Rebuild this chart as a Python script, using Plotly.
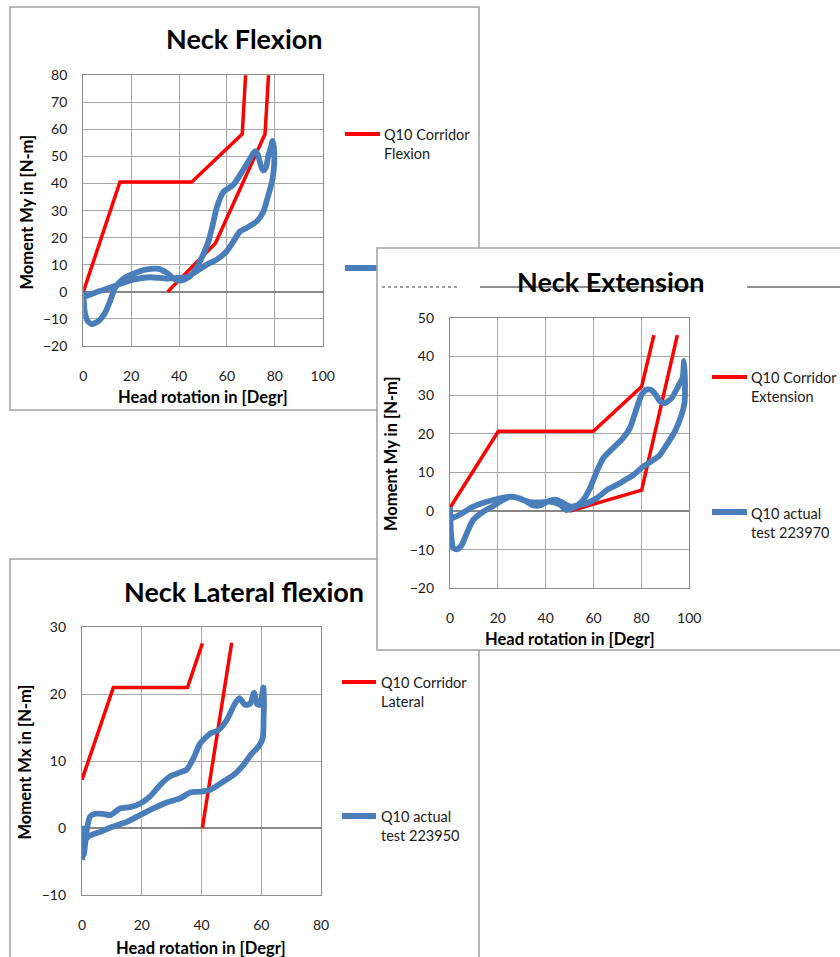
import plotly.graph_objects as go

# ---------------- DATA ----------------
# Neck Flexion
flex_corr_upper_x = [0, 15.3, 45.3, 66.4, 68.1]
flex_corr_upper_y = [0, 40.6, 40.6, 58.3, 85]
flex_corr_lower_x = [35.2, 55.2, 75.9, 77.7]
flex_corr_lower_y = [0, 18.0, 58.3, 85]
flex_test_x = [0, 0.2, 0.6, 1.7, 3.5, 6.3, 9.1, 11.2, 13.3, 16.7, 20.9, 26.5, 31.4, 34.8,
               38.3, 41.1, 44.6, 47.3, 50.1, 52.3, 54.0, 55.7, 58.5, 62.7, 66.9, 69.5,
               71.0, 71.8, 73.0, 74.2, 75.2, 76.3, 77.3, 78.4, 79.1, 79.6, 79.8, 79.6,
               79.1, 78.2, 77.3, 75.2, 72.4, 68.2, 65.4, 62.7, 59.9, 55.7, 51.5, 47.3,
               43.1, 40.3, 34.8, 27.8, 20.8, 15.2, 11.0, 5.5, 0.6, 0]
flex_test_y = [0.3, -3.5, -7.5, -10.6, -11.9, -10.8, -7.7, -3.4, 1.5, 4.8, 6.7, 8.3, 8.5, 7.1,
               4.6, 4.2, 5.8, 8.9, 13.8, 18.7, 24.5, 31.0, 36.9, 39.6, 45.2, 49.0,
               51.2, 52.0, 50.5, 46.5, 44.8, 46.0, 50.3, 53.5, 55.8, 53.5, 49.4, 45.5,
               42.0, 38.5, 35.8, 29.6, 26.0, 23.6, 22.3, 18.6, 15.0, 11.9, 10.0, 7.6,
               5.4, 5.2, 4.9, 5.4, 4.5, 2.9, 1.5, -0.1, -1.8, -2.5]

# Neck Extension
ext_corr_upper_x = [0, 20.2, 59.9, 80.1, 85.2]
ext_corr_upper_y = [0.8, 20.6, 20.6, 32.2, 45.5]
ext_corr_lower_x = [50.1, 80.1, 95.0]
ext_corr_lower_y = [0, 5.4, 45.5]
ext_test_x = [0, 0.2, 0.6, 1.4, 3.0, 4.9, 7.0, 9.7, 13.9, 18.1, 22.3, 25.1, 28.0, 31.5,
              34.5, 38.0, 41.5, 44.5, 47.5, 50.5, 53.5, 55.7, 58.5, 61.3, 64.1, 68.2,
              72.4, 75.2, 78.0, 80.1, 82.2, 84.0, 85.8, 87.7, 89.8, 92.6, 95.4, 97.2,
              97.8, 98.2, 98.0, 96.8, 94.0, 90.5, 87.7, 85.0, 80.8, 76.6, 73.1, 69.6,
              65.5, 61.3, 57.1, 54.3, 51.5, 48.7, 46.0, 41.8, 37.6, 33.4, 29.2, 25.1,
              20.9, 15.3, 9.7, 4.2, 0.7, 0]
ext_test_y = [1.0, -3.0, -7.0, -9.6, -9.9, -8.8, -5.8, -2.3, -0.2, 1.3, 2.9, 3.7, 3.5, 2.6,
              1.5, 1.5, 2.6, 2.9, 2.0, 1.1, 1.6, 2.9, 5.9, 10.2, 13.7, 16.3,
              18.9, 21.5, 26.6, 30.1, 31.4, 31.3, 30.2, 28.4, 27.9, 29.2, 32.3, 34.5,
              38.8, 33.0, 28.0, 24.9, 20.6, 17.1, 14.5, 13.2, 11.5, 9.3, 8.0, 6.7,
              5.4, 3.3, 2.0, 1.6, 0.8, 0.2, 1.6, 2.4, 2.2, 2.3, 3.2, 3.7,
              3.3, 2.4, 1.1, -0.9, -1.9, -2.0]

# Neck Lateral flexion
lat_corr_upper_x = [0, 10.5, 35.3, 40.3]
lat_corr_upper_y = [7.2, 21.0, 21.0, 27.6]
lat_corr_lower_x = [40.3, 50.1]
lat_corr_lower_y = [0, 27.7]
lat_test_x = [0, 0.2, 0.6, 1.6, 2.7, 4.4, 7.1, 9.4, 12.7, 16.1, 19.4, 22.8, 26.1, 29.5,
              32.8, 35.0, 37.3, 39.5, 42.9, 45.6, 48.4, 51.2, 52.7, 54.6, 56.3, 57.6,
              58.5, 59.6, 60.7, 60.9, 60.8, 60.5, 59.0, 56.8, 54.0, 50.7, 46.2, 42.9,
              39.5, 36.2, 32.8, 28.3, 23.9, 19.4, 15.0, 10.5, 6.0, 2.1, 0.7, 0]
lat_test_y = [0.3, -2.5, -4.0, -0.3, 1.7, 2.1, 2.1, 1.9, 2.9, 3.1, 3.6, 4.7, 6.4, 7.7,
              8.3, 8.7, 10.4, 12.6, 14.1, 14.6, 16.1, 18.6, 19.4, 18.4, 18.6, 20.2,
              18.6, 18.4, 21.0, 18.5, 16.6, 13.4, 12.1, 11.1, 9.4, 7.9, 6.6, 5.7,
              5.4, 5.3, 4.4, 3.8, 2.9, 1.9, 0.9, 0.2, -0.6, -1.3, -2.3, -4.8]

titles = ["Neck Flexion", "Neck Extension", "Neck Lateral flexion"]
x_title = "Head rotation in [Degr]"
y_titles = ["Moment My in [N-m]", "Moment My in [N-m]", "Moment Mx in [N-m]"]
legend_corr = ["Q10 Corridor<br>Flexion", "Q10 Corridor<br>Extension", "Q10 Corridor<br>Lateral"]
legend_test = ["Q10 actual<br>test 223970", "Q10 actual<br>test 223950"]

# ---------------- LAYOUT HELPERS ----------------
W, H = 840, 957
FONT = "Lato"
RED = "#FF0000"
BLUE = "#4A7EBB"


def px(v):
    return v / W


def py(v):
    return 1 - v / H


fig = go.Figure()

series = [
    ("x", "y", flex_corr_upper_x, flex_corr_upper_y, flex_corr_lower_x, flex_corr_lower_y, flex_test_x, flex_test_y),
    ("x2", "y2", ext_corr_upper_x, ext_corr_upper_y, ext_corr_lower_x, ext_corr_lower_y, ext_test_x, ext_test_y),
    ("x3", "y3", lat_corr_upper_x, lat_corr_upper_y, lat_corr_lower_x, lat_corr_lower_y, lat_test_x, lat_test_y),
]
for xa, ya, cux, cuy, clx, cly, tx, ty in series:
    fig.add_trace(go.Scatter(x=cux, y=cuy, mode="lines", line=dict(color=RED, width=3.5),
                             xaxis=xa, yaxis=ya, showlegend=False, hoverinfo="skip"))
    fig.add_trace(go.Scatter(x=clx, y=cly, mode="lines", line=dict(color=RED, width=3.5),
                             xaxis=xa, yaxis=ya, showlegend=False, hoverinfo="skip"))
    fig.add_trace(go.Scatter(x=tx, y=ty, mode="lines",
                             line=dict(color=BLUE, width=5.8, shape="spline", smoothing=0.6),
                             xaxis=xa, yaxis=ya, showlegend=False, hoverinfo="skip"))

axis_common = dict(showgrid=True, gridcolor="#A6A6A6", gridwidth=1.3,
                   showline=True, linecolor="#8C8C8C", linewidth=1.3, mirror=True,
                   zeroline=True, zerolinecolor="#868686", zerolinewidth=2.2,
                   ticks="", tickfont=dict(family=FONT, size=14, color="#1A1A1A"),
                   fixedrange=True, automargin=False)

# plot areas (pixel boxes): left, right, top, bottom
boxes = [(83.3, 322.7, 75.3, 346.0), (450.0, 689.3, 317.7, 588.3), (82.0, 321.0, 627.3, 894.7)]
xranges = [[0, 100], [0, 100], [0, 80]]
yranges = [[-20, 80], [-20, 50], [-10, 30]]
names = ["", "2", "3"]
for i, (l, r, t, b) in enumerate(boxes):
    fig.layout["xaxis" + names[i]] = dict(axis_common, domain=[px(l), px(r)], range=xranges[i],
                                          dtick=20, tick0=0, ticklabelstandoff=17,
                                          anchor="y" + names[i])
    fig.layout["yaxis" + names[i]] = dict(axis_common, domain=[py(b), py(t)], range=yranges[i],
                                          dtick=10, tick0=0, ticklabelstandoff=12,
                                          anchor="x" + names[i])

shapes = []
frame_style = dict(type="rect", xref="paper", yref="paper", line=dict(color="#A0A0A0", width=1.5),
                   fillcolor="white", layer="below")
# flexion frame, lateral frame, then extension frame (on top)
shapes.append(dict(frame_style, x0=px(10), x1=px(479), y0=py(410), y1=py(7)))
shapes.append(dict(frame_style, x0=px(10), x1=px(479), y0=py(975), y1=py(559)))
# flexion legend keys (second one partly hidden by extension panel)
shapes.append(dict(type="line", xref="paper", yref="paper", x0=px(345), x1=px(380), y0=py(134), y1=py(134),
                   line=dict(color=RED, width=4), layer="below"))
shapes.append(dict(type="line", xref="paper", yref="paper", x0=px(345), x1=px(385), y0=py(268), y1=py(268),
                   line=dict(color=BLUE, width=5.8), layer="below"))
shapes.append(dict(frame_style, x0=px(377), x1=px(860), y0=py(650), y1=py(248)))
# stray lines under the extension title
shapes.append(dict(type="line", xref="paper", yref="paper", x0=px(382), x1=px(460), y0=py(287), y1=py(287),
                   line=dict(color="#444444", width=1, dash="dot"), layer="below"))
shapes.append(dict(type="line", xref="paper", yref="paper", x0=px(480), x1=px(703), y0=py(287), y1=py(287),
                   line=dict(color="#222222", width=1.2), layer="below"))
shapes.append(dict(type="line", xref="paper", yref="paper", x0=px(747), x1=px(840), y0=py(287), y1=py(287),
                   line=dict(color="#222222", width=1.2), layer="below"))
# legend keys for extension and lateral
for (x0, x1, yy, col) in [(712, 747, 377, RED), (712, 747, 512, BLUE), (342, 376, 682, RED), (342, 376, 816, BLUE)]:
    shapes.append(dict(type="line", xref="paper", yref="paper", x0=px(x0), x1=px(x1), y0=py(yy), y1=py(yy),
                       line=dict(color=col, width=4 if col == RED else 5.8), layer="below"))

ann = []
# titles
for text, cx, cy in [(titles[0], 244.5, 39), (titles[1], 610.5, 281), (titles[2], 244, 591)]:
    ann.append(dict(text="<b>" + text + "</b>", x=px(cx), y=py(cy), xref="paper", yref="paper",
                    showarrow=False, xanchor="center", yanchor="middle",
                    font=dict(family=FONT, size=27, color="#000000")))
# x-axis titles
for cx, cy in [(203, 397), (570, 639), (201, 948)]:
    ann.append(dict(text="<b>" + x_title + "</b>", x=px(cx), y=py(cy), xref="paper", yref="paper",
                    showarrow=False, xanchor="center", yanchor="middle",
                    font=dict(family=FONT, size=16.5, color="#000000")))
# y-axis titles
for text, cx, cy in [(y_titles[0], 26.5, 212), (y_titles[1], 391, 454), (y_titles[2], 24.5, 762)]:
    ann.append(dict(text="<b>" + text + "</b>", x=px(cx), y=py(cy), xref="paper", yref="paper",
                    showarrow=False, xanchor="center", yanchor="middle", textangle=-90,
                    font=dict(family=FONT, size=16.5, color="#000000")))
# legend texts
for text, lx, cy in [(legend_corr[0], 382, 144), (legend_corr[1], 749, 387), (legend_test[0], 749, 523),
                     (legend_corr[2], 379, 692), (legend_test[1], 379, 826)]:
    ann.append(dict(text=text, x=px(lx), y=py(cy), xref="paper", yref="paper",
                    showarrow=False, xanchor="left", yanchor="middle", align="left",
                    font=dict(family=FONT, size=14.5, color="#1A1A1A")))

fig.update_layout(width=W, height=H, margin=dict(l=0, r=0, t=0, b=0),
                  paper_bgcolor="white", plot_bgcolor="white",
                  shapes=shapes, annotations=ann, showlegend=False)

fig.write_html("out.html", config={"displayModeBar": False},
               post_script="document.body.style.margin='0px';document.body.style.overflow='hidden';")
